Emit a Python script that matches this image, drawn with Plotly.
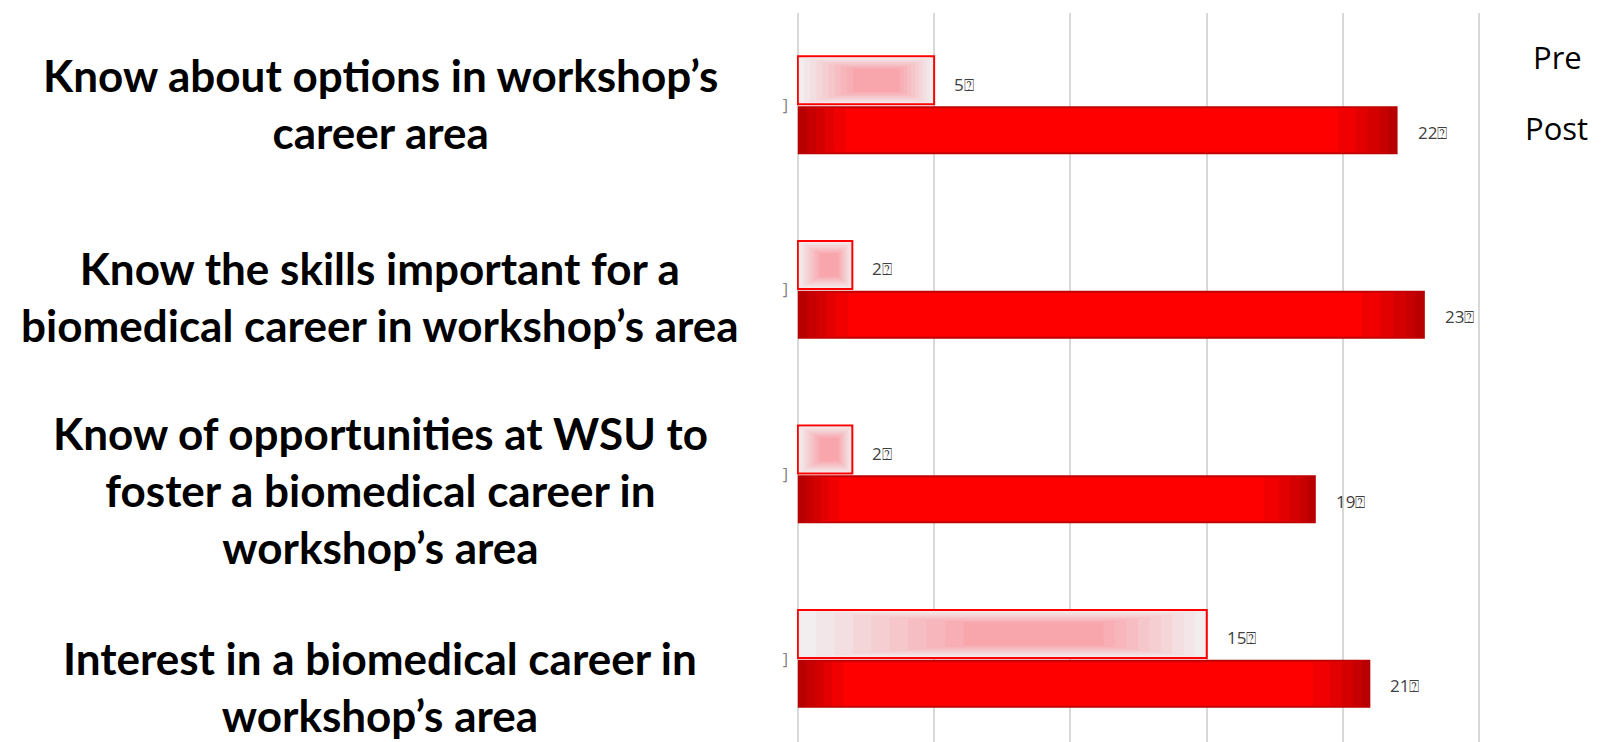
import plotly.graph_objects as go

categories = [
    "Know about options in workshop’s<br>career area",
    "Know the skills important for a<br>biomedical career in workshop’s area",
    "Know of opportunities at WSU to<br>foster a biomedical career in<br>workshop’s area",
    "Interest in a biomedical career in<br>workshop’s area",
]
pre_values = [5, 2, 2, 15]
post_values = [22, 23, 19, 21]
series_names = ["Pre", "Post"]
tick_text = ["]", "]", "]", "]"]
label_suffix = "⍰"

# styling
BAR_W = 0.26
PRE_CENTER = -0.135
POST_CENTER = 0.135
post_layers = [  # (left frac, right frac, height shrink, colour)
    (0.0, 1.0, 0.0, "#B80000"),
    (0.015, 0.985, 0.004, "#C60000"),
    (0.03, 0.97, 0.008, "#D40000"),
    (0.045, 0.95, 0.011, "#E20000"),
    (0.06, 0.93, 0.013, "#F00000"),
    (0.08, 0.90, 0.014, "#FF0000"),
]


def mix(c1, c2, t):
    a = [int(c1[i:i + 2], 16) for i in (1, 3, 5)]
    b = [int(c2[i:i + 2], 16) for i in (1, 3, 5)]
    return "#" + "".join(f"{round(x + (y - x) * t):02X}" for x, y in zip(a, b))


N_PRE = 10
pre_layers = [
    (0.045 * k, 1 - 0.028 * k, 0.0075 * k, mix("#F2EEF0", "#F8A6AC", k / (N_PRE - 1)))
    for k in range(N_PRE)
]

fig = go.Figure()


def add_layers(values, layers, center, outline):
    for k, (a, b, shrink, col) in enumerate(layers):
        w = BAR_W - 2 * shrink
        fig.add_trace(go.Bar(
            y=categories,
            x=[v * (b - a) for v in values],
            base=[v * a for v in values],
            orientation="h",
            offset=center - w / 2,
            width=w,
            marker=dict(color=col,
                        line=dict(color=outline if (k == 0 and outline) else col,
                                  width=2 if (k == 0 and outline) else 0)),
            showlegend=False,
            hoverinfo="skip",
        ))


add_layers(pre_values, pre_layers, PRE_CENTER, "#FF0000")
add_layers(post_values, post_layers, POST_CENTER, None)

annotations = []
label_font = dict(family="Open Sans, DejaVu Sans", size=17, color="#404040")
for i, v in enumerate(pre_values):
    annotations.append(dict(x=v, y=i + PRE_CENTER + 0.02, xref="x", yref="y",
                            text=f"{v}{label_suffix}", showarrow=False,
                            xanchor="left", yanchor="middle", xshift=18, font=label_font))
for i, v in enumerate(post_values):
    annotations.append(dict(x=v, y=i + POST_CENTER + 0.01, xref="x", yref="y",
                            text=f"{v}{label_suffix}", showarrow=False,
                            xanchor="left", yanchor="middle", xshift=18, font=label_font))

# layout geometry (pixels)
H = 742
TOP = 13
PLOT_H = H - TOP
L, R = 797, 1493


def dom_x(px):
    return (px - L) / (R - L)


def pap_y(px):
    return 1 - (px - TOP) / PLOT_H


label_centers_px = [103.5, 296.6, 490, 686.5]
for cat, ypx in zip(categories, label_centers_px):
    annotations.append(dict(
        x=dom_x(380), y=pap_y(ypx), xref="x domain", yref="paper",
        text=f"<b>{cat}</b>", showarrow=False, xanchor="center", yanchor="middle",
        align="center", font=dict(family="Lato", size=44, color="#000000")))

legend_px = [(1557, 57), (1556, 128)]
for name, (xp, yp) in zip(series_names, legend_px):
    annotations.append(dict(
        x=dom_x(xp), y=pap_y(yp), xref="x domain", yref="paper",
        text=name, showarrow=False, xanchor="center", yanchor="middle",
        font=dict(family="Open Sans", size=31, color="#000000")))

fig.update_layout(
    width=1602, height=H,
    margin=dict(l=L, r=1602 - R, t=TOP, b=0, pad=0),
    barmode="overlay",
    plot_bgcolor="white", paper_bgcolor="white",
    showlegend=False,
    annotations=annotations,
    xaxis=dict(range=[-0.03, 25.5], showgrid=True, gridcolor="#D9D9D9", gridwidth=2,
               dtick=5, tick0=0, zeroline=True, zerolinecolor="#D9D9D9", zerolinewidth=2,
               showticklabels=False, showline=False, ticks=""),
    yaxis=dict(type="category", categoryorder="array", categoryarray=categories,
               range=[3.45, -0.5], tickvals=categories, ticktext=tick_text,
               tickfont=dict(family="Open Sans", size=16, color="#7F7F7F"),
               ticklabelstandoff=8,
               showgrid=False, zeroline=False, showline=False, ticks=""),
)

fig.write_html("out.html")
